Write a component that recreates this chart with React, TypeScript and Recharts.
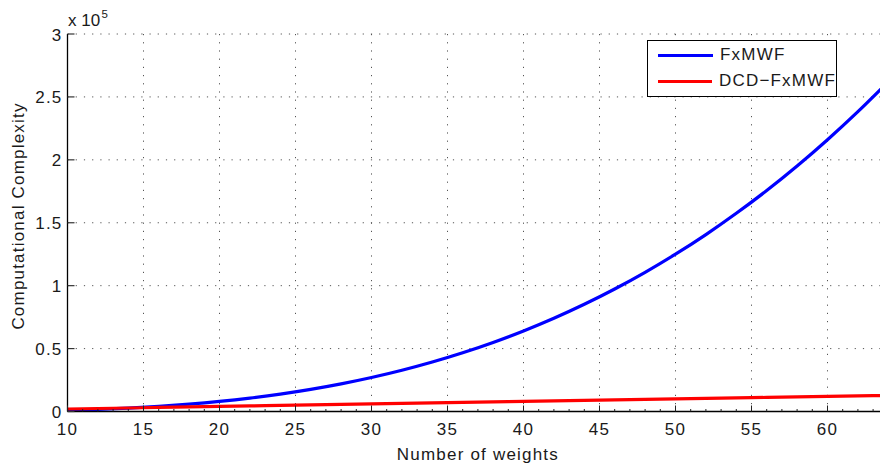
import { CartesianGrid, Legend, Line, LineChart, XAxis, YAxis } from 'recharts';

const weights = [10, 12, 14, 16, 18, 20, 22, 24, 26, 28, 30, 32, 34, 36, 38, 40, 42, 44, 46, 48, 50, 52, 54, 56, 58, 60, 62, 64];
const fxmwf = [
  1000, 1730, 2740, 4100, 5830, 8000, 10650, 13820, 17580, 21950, 27000, 32770, 39300, 46660,
  54870, 64000, 74090, 85180, 97340, 110600, 125000, 140600, 157500, 175600, 195100, 216000, 238300, 262100,
];
const dcdFxmwf = [
  2000, 2400, 2800, 3200, 3600, 4000, 4400, 4800, 5200, 5600, 6000, 6400, 6800, 7200,
  7600, 8000, 8400, 8800, 9200, 9600, 10000, 10400, 10800, 11200, 11600, 12000, 12400, 12800,
];
const seriesNames = ['FxMWF', 'DCD−FxMWF'];

const majorX = [10, 15, 20, 25, 30, 35, 40, 45, 50, 55, 60];
const allX = [
  10, 11, 12, 13, 14, 15, 16, 17, 18, 19, 20, 21, 22, 23, 24, 25, 26, 27, 28, 29, 30, 31, 32, 33, 34, 35, 36, 37,
  38, 39, 40, 41, 42, 43, 44, 45, 46, 47, 48, 49, 50, 51, 52, 53, 54, 55, 56, 57, 58, 59, 60, 61, 62, 63, 64,
];
const yTicks = [0, 50000, 100000, 150000, 200000, 250000, 300000];

const data = weights.map((n, i) => ({ n, fxmwf: fxmwf[i], dcd: dcdFxmwf[i] }));

const font = '"Liberation Sans", Arial, Helvetica, sans-serif';
const textStyle = { fontFamily: font, fontSize: 17, letterSpacing: 1.2, fill: '#1a1a1a' };
const gridColor = '#555';

function BottomTick(props: any) {
  const { x, y, payload } = props;
  const v = payload.value as number;
  const major = v % 5 === 0;
  return (
    <g>
      <line x1={x} x2={x} y1={y} y2={y - (major ? 6 : 2.5)} stroke="#222" strokeWidth={1} />
      {major && v <= 60 && (
        <text x={x} y={y + 23.5} textAnchor="middle" style={textStyle}>
          {v}
        </text>
      )}
    </g>
  );
}

function TopTick(props: any) {
  const { x, y } = props;
  return <line x1={x} x2={x} y1={y} y2={y + 6} stroke="#222" strokeWidth={1} />;
}

function LeftTick(props: any) {
  const { x, y, payload } = props;
  const v = (payload.value as number) / 100000;
  return (
    <g>
      <line x1={x} x2={x + 7} y1={y} y2={y} stroke="#333" strokeWidth={1.2} />
      <text x={x - 5} y={y + 6.5} textAnchor="end" style={textStyle}>
        {String(v)}
      </text>
    </g>
  );
}

function LegendBox({ payload }: any) {
  const items = seriesNames
    .map((name) => (payload ?? []).find((it: any) => it.value === name))
    .filter(Boolean);
  return (
    <div
      style={{
        width: 190,
        height: 57,
        boxSizing: 'border-box',
        border: '1px solid #000',
        background: '#fff',
        paddingTop: 1,
        fontFamily: font,
        fontSize: 17,
        letterSpacing: 1.2,
        color: '#1a1a1a',
      }}
    >
      {items.map((item: any) => (
        <div key={item.value} style={{ display: 'flex', alignItems: 'center', height: 26 }}>
          <span style={{ display: 'inline-block', width: 55, height: 3, background: item.color, marginLeft: 10, marginRight: 7 }} />
          <span style={{ lineHeight: '26px' }}>{item.value}</span>
        </div>
      ))}
    </div>
  );
}

export default function App() {
  return (
    <div style={{ position: 'absolute', left: 0, top: 0, width: 880, height: 468, overflow: 'hidden', background: '#fff' }}>
      <LineChart width={900} height={468} data={data} margin={{ top: 34, right: 11.7, bottom: 0, left: 0 }}>
        <CartesianGrid xAxisId="top" stroke={gridColor} strokeDasharray="1.2 7" />
        <XAxis
          dataKey="n"
          type="number"
          domain={[10, 64]}
          ticks={allX}
          interval={0}
          allowDataOverflow
          height={56.5}
          tickSize={0}
          tickMargin={0}
          axisLine={{ stroke: '#000', strokeWidth: 1.3 }}
          tick={(p: any) => <BottomTick {...p} />}
          label={{
            content: (p: any) => {
              const vb = p.viewBox;
              return (
                <text x={vb.x + vb.width / 2} y={vb.y + 48.5} textAnchor="middle" style={textStyle}>
                  Number of weights
                </text>
              );
            },
          }}
        />
        <XAxis
          xAxisId="top"
          orientation="top"
          dataKey="n"
          type="number"
          domain={[10, 64]}
          ticks={majorX}
          interval={0}
          allowDataOverflow
          height={0}
          tickSize={0}
          tickMargin={0}
          axisLine={{ stroke: '#000', strokeWidth: 1.3 }}
          tick={(p: any) => <TopTick {...p} />}
        />
        <YAxis
          type="number"
          domain={[0, 300000]}
          ticks={yTicks}
          interval={0}
          width={67.5}
          tickSize={0}
          tickMargin={0}
          axisLine={{ stroke: '#000', strokeWidth: 1.3 }}
          tick={(p: any) => <LeftTick {...p} />}
          label={{
            content: () => (
              <g>
                <text x={24} y={216} textAnchor="middle" transform="rotate(-90, 24, 216)" style={textStyle}>
                  Computational Complexity
                </text>
                <text x={68} y={26} style={{ ...textStyle, letterSpacing: 0 }}>
                  x 10
                </text>
                <text x={101.5} y={17.5} style={{ ...textStyle, fontSize: 11.5, letterSpacing: 0 }}>
                  5
                </text>
              </g>
            ),
          }}
        />
        <Legend
          layout="vertical"
          align="center"
          verticalAlign="middle"
          itemSorter={null as any}
          wrapperStyle={{ left: 647, top: 40, width: 190, height: 57 }}
          content={(p: any) => <LegendBox payload={p.payload} />}
        />
        <Line
          type="monotone"
          dataKey="fxmwf"
          name={seriesNames[0]}
          stroke="#0000ff"
          strokeWidth={3.2}
          dot={false}
          isAnimationActive={false}
        />
        <Line
          type="monotone"
          dataKey="dcd"
          name={seriesNames[1]}
          stroke="#ff0000"
          strokeWidth={3.2}
          dot={false}
          isAnimationActive={false}
        />
      </LineChart>
    </div>
  );
}
